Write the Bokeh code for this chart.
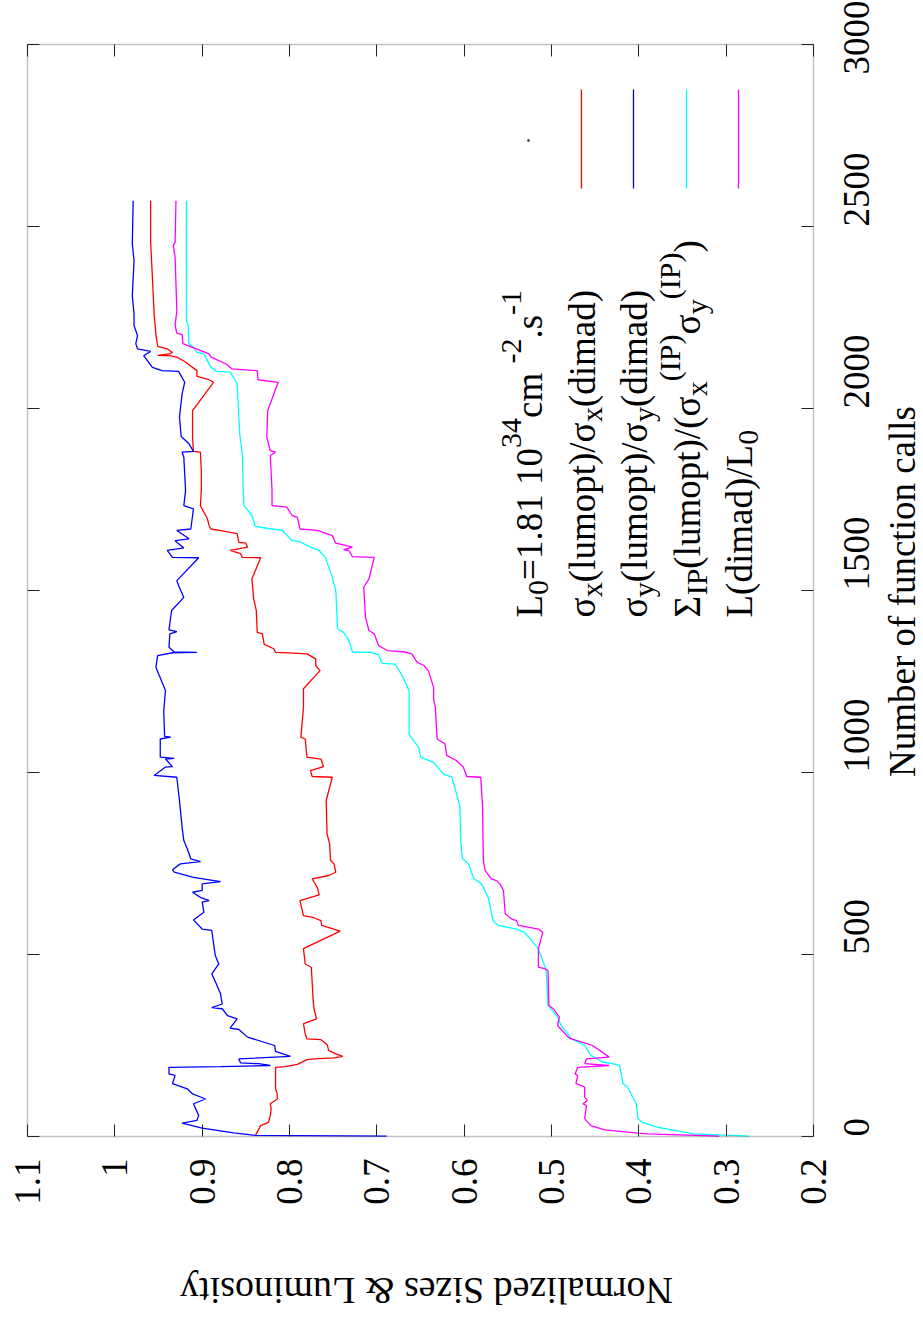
import math
from bokeh.plotting import figure
from bokeh.models import Range1d, LinearAxis, FixedTicker, Label, BoxAnnotation
from bokeh.embed import file_html
from bokeh.resources import INLINE

# ---------------- data ----------------
value_ticks = [0.2, 0.3, 0.4, 0.5, 0.6, 0.7, 0.8, 0.9, 1.0, 1.1]
value_tick_labels = ["0.2", "0.3", "0.4", "0.5", "0.6", "0.7", "0.8", "0.9", "1", "1.1"]
call_ticks = [0, 500, 1000, 1500, 2000, 2500, 3000]
call_tick_labels = ["0", "500", "1000", "1500", "2000", "2500", "3000"]

# sigma_y(lumopt)/sigma_y(dimad)  (blue)
sy_calls = [1, 3, 10, 23, 37, 44, 58, 90, 103, 117, 131, 145, 168, 172, 190, 192, 195, 200, 202, 213,
            220, 234, 250, 273, 294, 298, 323, 332, 351, 354, 364, 392, 415, 447, 474, 497, 566, 570,
            595, 616, 644, 648, 657, 671, 676, 694, 700, 712, 726, 733, 749, 755, 763, 790, 813, 850,
            923, 987, 992, 1015, 1016, 1037, 1039, 1042, 1092, 1097, 1099, 1170, 1225, 1289, 1321,
            1329, 1330, 1331, 1344, 1381, 1387, 1392, 1445, 1481, 1514, 1527, 1590, 1591, 1610, 1617,
            1637, 1642, 1665, 1669, 1724, 1733, 1775, 1866, 1880, 1882, 1903, 1923, 1976, 2040, 2072,
            2102, 2104, 2113, 2145, 2157, 2164, 2178, 2200, 2228, 2260, 2310, 2406, 2452, 2571]
sy_vals = [0.689, 0.839, 0.864, 0.900, 0.923, 0.906, 0.904, 0.910, 0.896, 0.911, 0.917, 0.934, 0.931,
           0.938, 0.938, 0.879, 0.822, 0.835, 0.856, 0.858, 0.799, 0.816, 0.817, 0.848, 0.858, 0.868,
           0.860, 0.871, 0.877, 0.889, 0.877, 0.879, 0.883, 0.889, 0.881, 0.885, 0.889, 0.900, 0.910,
           0.898, 0.900, 0.892, 0.902, 0.911, 0.900, 0.900, 0.879, 0.910, 0.932, 0.934, 0.925, 0.902,
           0.913, 0.917, 0.921, 0.923, 0.926, 0.929, 0.955, 0.942, 0.934, 0.942, 0.932, 0.948, 0.948,
           0.936, 0.943, 0.944, 0.942, 0.953, 0.951, 0.934, 0.906, 0.932, 0.938, 0.937, 0.929, 0.938,
           0.935, 0.921, 0.927, 0.929, 0.904, 0.934, 0.940, 0.921, 0.931, 0.915, 0.929, 0.913, 0.910,
           0.921, 0.919, 0.921, 0.923, 0.910, 0.915, 0.924, 0.926, 0.923, 0.920, 0.927, 0.946, 0.957,
           0.967, 0.959, 0.974, 0.976, 0.974, 0.978, 0.978, 0.980, 0.978, 0.980, 0.979]

# sigma_x(lumopt)/sigma_x(dimad)  (red)
sx_calls = [3, 30, 39, 58, 76, 90, 103, 117, 131, 190, 192, 198, 211, 213, 216, 220, 227, 236, 253,
            266, 268, 282, 310, 323, 351, 378, 465, 474, 516, 564, 580, 593, 601, 607, 648, 664, 683,
            708, 717, 726, 749, 758, 804, 831, 923, 987, 989, 1005, 1016, 1037, 1042, 1092, 1097, 1179,
            1230, 1280, 1294, 1312, 1326, 1328, 1330, 1340, 1352, 1381, 1385, 1445, 1477, 1532, 1590,
            1591, 1601, 1610, 1619, 1630, 1632, 1656, 1664, 1669, 1678, 1697, 1733, 1775, 1830, 1880,
            1882, 1921, 1994, 2072, 2081, 2088, 2104, 2129, 2141, 2145, 2146, 2150, 2154, 2164, 2171,
            2205, 2260, 2361, 2457, 2571]
sx_vals = [0.839, 0.833, 0.824, 0.822, 0.821, 0.822, 0.814, 0.814, 0.816, 0.816, 0.805, 0.791, 0.780,
           0.772, 0.749, 0.739, 0.747, 0.755, 0.757, 0.764, 0.780, 0.782, 0.784, 0.769, 0.772, 0.773,
           0.775, 0.782, 0.784, 0.742, 0.763, 0.764, 0.772, 0.784, 0.788, 0.766, 0.768, 0.774, 0.755,
           0.747, 0.749, 0.753, 0.754, 0.757, 0.758, 0.751, 0.774, 0.776, 0.761, 0.764, 0.780, 0.782,
           0.787, 0.784, 0.784, 0.765, 0.770, 0.770, 0.780, 0.795, 0.816, 0.818, 0.829, 0.831, 0.837,
           0.838, 0.841, 0.843, 0.833, 0.854, 0.856, 0.868, 0.848, 0.850, 0.858, 0.860, 0.877, 0.890,
           0.892, 0.894, 0.902, 0.901, 0.901, 0.902, 0.910, 0.911, 0.911, 0.887, 0.894, 0.906, 0.906,
           0.920, 0.929, 0.938, 0.951, 0.938, 0.934, 0.940, 0.951, 0.953, 0.955, 0.957, 0.959, 0.959]

# Sigma_IP(lumopt)/(sigma_x sigma_y)  (cyan)
sig_calls = [1, 7, 26, 39, 49, 90, 136, 145, 195, 200, 204, 223, 250, 268, 305, 328, 360, 456, 516,
             561, 570, 580, 593, 653, 694, 708, 749, 763, 813, 909, 987, 996, 1028, 1042, 1069, 1097,
             1106, 1225, 1266, 1298, 1300, 1324, 1330, 1331, 1363, 1385, 1395, 1500, 1536, 1591, 1610,
             1619, 1635, 1637, 1665, 1671, 1676, 1706, 1733, 1775, 1875, 1930, 2068, 2077, 2100, 2102,
             2113, 2150, 2154, 2168, 2178, 2228, 2242, 2571]
sig_vals = [0.274, 0.337, 0.379, 0.396, 0.401, 0.403, 0.413, 0.418, 0.422, 0.430, 0.441, 0.455, 0.462,
            0.477, 0.489, 0.493, 0.504, 0.506, 0.515, 0.531, 0.540, 0.561, 0.567, 0.572, 0.580, 0.589,
            0.595, 0.602, 0.604, 0.605, 0.614, 0.624, 0.635, 0.650, 0.652, 0.661, 0.663, 0.663, 0.671,
            0.679, 0.694, 0.698, 0.707, 0.728, 0.732, 0.738, 0.745, 0.747, 0.751, 0.759, 0.766, 0.776,
            0.789, 0.797, 0.808, 0.826, 0.839, 0.843, 0.852, 0.853, 0.854, 0.857, 0.860, 0.862, 0.868,
            0.883, 0.890, 0.898, 0.906, 0.910, 0.915, 0.916, 0.918, 0.918]

# L(dimad)/L0  (magenta)
lum_calls = [1, 7, 9, 18, 30, 49, 85, 90, 99, 108, 136, 140, 145, 168, 172, 190, 195, 200, 213, 218,
             250, 268, 273, 305, 328, 351, 360, 456, 461, 465, 516, 561, 570, 580, 593, 598, 612, 676,
             694, 703, 708, 731, 758, 909, 987, 989, 1015, 1033, 1047, 1079, 1092, 1179, 1202, 1234,
             1280, 1294, 1303, 1326, 1331, 1335, 1349, 1381, 1390, 1427, 1509, 1532, 1591, 1593, 1610,
             1612, 1619, 1624, 1630, 1651, 1665, 1669, 1701, 1706, 1729, 1733, 1775, 1871, 1880, 1884,
             1921, 1994, 2072, 2079, 2104, 2109, 2123, 2141, 2150, 2178, 2203, 2207, 2228, 2269, 2415,
             2448, 2457, 2571]
lum_vals = [0.308, 0.390, 0.401, 0.439, 0.455, 0.462, 0.460, 0.464, 0.459, 0.462, 0.462, 0.466, 0.472,
            0.470, 0.473, 0.470, 0.434, 0.462, 0.460, 0.434, 0.453, 0.477, 0.481, 0.493, 0.491, 0.498,
            0.503, 0.504, 0.508, 0.515, 0.515, 0.510, 0.515, 0.538, 0.540, 0.546, 0.553, 0.555, 0.559,
            0.563, 0.569, 0.576, 0.578, 0.579, 0.581, 0.597, 0.601, 0.609, 0.620, 0.622, 0.631, 0.633,
            0.635, 0.635, 0.641, 0.646, 0.654, 0.660, 0.667, 0.688, 0.698, 0.703, 0.709, 0.713, 0.715,
            0.709, 0.703, 0.728, 0.732, 0.738, 0.728, 0.736, 0.747, 0.751, 0.768, 0.788, 0.791, 0.797,
            0.803, 0.820, 0.820, 0.822, 0.816, 0.822, 0.826, 0.825, 0.813, 0.836, 0.837, 0.866, 0.873,
            0.890, 0.892, 0.922, 0.923, 0.929, 0.931, 0.929, 0.931, 0.933, 0.931, 0.930]

series_colors = ["#ff0000", "#0000ff", "#00ffff", "#ff00ff"]

# ---------------- layout ----------------
FONT = "Liberation Serif"
TICK_FONT = "serif"
W, H = 923, 1318
# plot box (gnuplot border) in page pixels
BOX_L, BOX_R, BOX_T, BOX_B = 27, 813, 44, 1136
V_MAX, V_MIN = 1.1, 0.2          # value axis: V_MAX at left, V_MIN at right
C_MIN, C_MAX = 0, 3000           # calls axis: bottom to top
PX_V = (BOX_R - BOX_L) / (V_MAX - V_MIN)
PX_C = (BOX_B - BOX_T) / (C_MAX - C_MIN)
TEXT_MID = 12    # px between a 37px text's baseline and the anchor bokeh uses


def vx(px):
    return V_MAX - (px - BOX_L) / PX_V


def cy(py):
    return C_MAX - (py - BOX_T) / PX_C


# the frame spans the whole page; the gnuplot border is drawn as a box
p = figure(width=W, height=H, x_range=Range1d(vx(0), vx(W)), y_range=Range1d(cy(H), cy(0)),
           output_backend="svg", toolbar_location=None,
           x_axis_location=None, y_axis_location=None,
           min_border_left=0, min_border_right=0, min_border_top=0, min_border_bottom=0)
p.grid.visible = False
p.outline_line_color = None
p.background_fill_color = "white"
p.border_fill_color = "white"


def style_axis(ax, show_labels):
    ax.axis_line_color = None
    ax.major_tick_in = 12
    ax.major_tick_out = 0
    ax.major_tick_line_color = "#222222"
    ax.major_tick_line_width = 1
    ax.minor_tick_line_color = None
    if show_labels:
        ax.major_label_text_font = TICK_FONT
        ax.major_label_text_font_size = "37px"
        ax.major_label_text_color = "black"
    else:
        ax.major_label_text_font_size = "10px"
        ax.major_label_standoff = 0


bottom = LinearAxis(fixed_location=C_MIN, ticker=FixedTicker(ticks=value_ticks),
                    major_label_overrides=dict(zip(value_ticks, value_tick_labels)))
style_axis(bottom, True)
bottom.major_label_orientation = math.pi / 2
bottom.major_label_standoff = 22
p.add_layout(bottom, "below")

top = LinearAxis(fixed_location=C_MAX, ticker=FixedTicker(ticks=value_ticks),
                 major_label_overrides={t: "" for t in value_ticks})
style_axis(top, False)
p.add_layout(top, "above")

right = LinearAxis(fixed_location=V_MIN, ticker=FixedTicker(ticks=call_ticks),
                   major_label_overrides=dict(zip(call_ticks, call_tick_labels)))
style_axis(right, True)
right.major_label_orientation = math.pi / 2
right.major_label_standoff = 43
p.add_layout(right, "right")

left = LinearAxis(fixed_location=V_MAX, ticker=FixedTicker(ticks=call_ticks),
                  major_label_overrides={t: "" for t in call_ticks})
style_axis(left, False)
p.add_layout(left, "left")

# series (value horizontal, calls vertical: rotated gnuplot page)
for vals, calls, col in [(sx_vals, sx_calls, series_colors[0]),
                         (sy_vals, sy_calls, series_colors[1]),
                         (sig_vals, sig_calls, series_colors[2]),
                         (lum_vals, lum_calls, series_colors[3])]:
    p.line(x=vals, y=calls, line_color=col, line_width=1.3)

# border of the plot box
p.add_layout(BoxAnnotation(left=V_MAX, right=V_MIN, bottom=C_MIN, top=C_MAX,
                           fill_alpha=0, fill_color=None, line_color="#333333", line_width=1.5))

# ---------------- legend (rotated) ----------------
WID = {'L': .611, '0': .5, '1': .5, '2': .5, '3': .5, '4': .5, '8': .5, '=': .564, '.': .25, ' ': .25,
       'c': .444, 'm': .778, '-': .333, 's': .389, 'σ': .55, 'x': .5, 'y': .5, '(': .333, ')': .333,
       'l': .278, 'u': .5, 'o': .5, 'p': .5, 't': .278, '/': .278, 'd': .5, 'i': .278, 'a': .444,
       'Σ': .6, 'I': .333, 'P': .556}
MAIN, SMALL = 37, 30
SHIFT = {0: 0, -1: 9, 1: -18}

legend_lines = [
    [("L", 0), ("0", -1), ("=1.81 10", 0), ("34", 1), (" cm", 0), ("-2", 1), (".s", 0), ("-1", 1)],
    [("σ", 0), ("x", -1), ("(lumopt)/σ", 0), ("x", -1), ("(dimad)", 0)],
    [("σ", 0), ("y", -1), ("(lumopt)/σ", 0), ("y", -1), ("(dimad)", 0)],
    [("Σ", 0), ("IP", -1), ("(lumopt)/(σ", 0), ("x", -1), ("(IP)", 1), ("σ", 0), ("y", -1),
     ("(IP)", 1), (")", 0)],
    [("L(dimad)/L", 0), ("0", -1)],
]
baselines_px = [541, 593.5, 646, 698.5, 751]
text_start_py = 617
for pieces, bx in zip(legend_lines, baselines_px):
    adv = 0.0
    for txt, lvl in pieces:
        size = MAIN if lvl == 0 else SMALL
        p.add_layout(Label(x=vx(bx - TEXT_MID), y=cy(text_start_py), x_offset=SHIFT[lvl], y_offset=adv,
                           text=txt, angle=math.pi / 2, text_align="left",
                           text_baseline="alphabetic", text_font=FONT,
                           text_font_size=f"{size}px", text_color="black"))
        adv += sum(WID.get(ch, 0.5) for ch in txt) * size

sample_px = [581, 633, 686, 738]
p.segment(x0=[vx(x) for x in sample_px], x1=[vx(x) for x in sample_px],
          y0=[cy(188)] * 4, y1=[cy(89)] * 4, line_color=series_colors, line_width=1.3)
p.scatter(x=[vx(528)], y=[cy(140)], size=2, color="#444444")

# axis titles (rotated with the page)
p.add_layout(Label(x=vx(914 - TEXT_MID), y=cy(591), text="Number of function calls",
                   angle=math.pi / 2, text_align="center", text_baseline="alphabetic",
                   text_font=FONT, text_font_size="37px", text_color="black"))
p.add_layout(Label(x=vx(426), y=cy(1278 + TEXT_MID), text="Normalized Sizes & Luminosity",
                   angle=math.pi, text_align="center", text_baseline="alphabetic",
                   text_font=FONT, text_font_size="38px", text_color="black"))

open("out.html", "w").write(file_html(p, INLINE))
